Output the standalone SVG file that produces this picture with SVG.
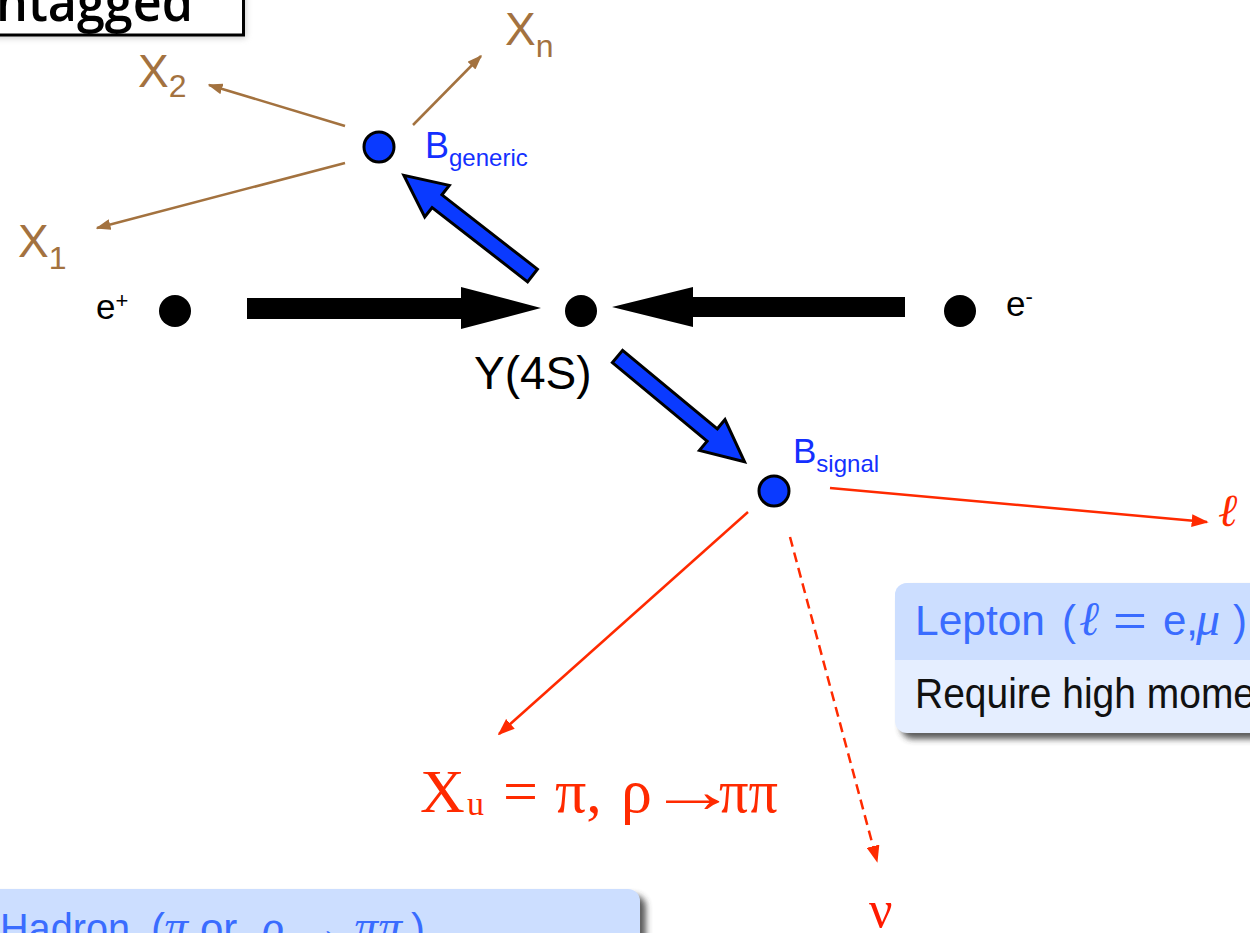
<svg xmlns="http://www.w3.org/2000/svg" width="1250" height="933" viewBox="0 0 1250 933">
<style>
.sans{font-family:"Liberation Sans",Arial,sans-serif}
.serif{font-family:"Liberation Serif","DejaVu Serif",serif}
.brown{fill:#A3723F}
.blueT{fill:#1430FF}
.red{fill:#FF2A00}
.dot{fill:#000}
.bdot{fill:#0A3AFF;stroke:#000;stroke-width:3}
.barrow{fill:#0A3AFF;stroke:#000;stroke-width:3;stroke-linejoin:miter}
.karrow{fill:#000}
.bline{stroke:#A3723F;stroke-width:2.5;fill:none}
.rline{stroke:#FF2A00;stroke-width:2.5;fill:none}
.hdr{font-family:"Liberation Sans",Arial,sans-serif;font-size:42px;fill:#3A6CFF}
.hm{font-family:"Liberation Serif","DejaVu Serif",serif;font-style:italic;font-size:48px;fill:#3A6CFF}
.body{font-family:"Liberation Sans",Arial,sans-serif;font-size:42px;fill:#111}
</style>
<defs>
<marker id="mb" viewBox="0 0 10 10" refX="9" refY="5" markerWidth="15" markerHeight="11" orient="auto" markerUnits="userSpaceOnUse" preserveAspectRatio="none"><path d="M0,0 L10,5 L0,10 z" fill="#A3723F"/></marker>
<marker id="mr" viewBox="0 0 10 10" refX="9" refY="5" markerWidth="17" markerHeight="13" orient="auto" markerUnits="userSpaceOnUse" preserveAspectRatio="none"><path d="M0,0 L10,5 L0,10 z" fill="#FF2A00"/></marker>
<filter id="sh" x="-20%" y="-20%" width="140%" height="140%"><feGaussianBlur stdDeviation="3"/></filter>
</defs>
<rect width="1250" height="933" fill="#fff"/>

<g id="title-box">
<rect x="-10" y="-10" width="256" height="48" fill="#999" filter="url(#sh)" opacity="0.5"/>
<rect x="-10" y="-10" width="253.5" height="45" fill="#fff" stroke="#000" stroke-width="3"/>
<text x="-4" y="21" font-family="'Open Sans',sans-serif" font-weight="600" font-size="54" textLength="197" lengthAdjust="spacingAndGlyphs" fill="#000">ntagged</text>
</g>

<g id="connectors">
<line class="bline" x1="345" y1="126" x2="209" y2="85" marker-end="url(#mb)"/>
<line class="bline" x1="413" y1="125" x2="481" y2="56" marker-end="url(#mb)"/>
<line class="bline" x1="345" y1="163" x2="97" y2="228" marker-end="url(#mb)"/>
<polygon class="barrow" transform="translate(532.5,275.5) rotate(217.9)" points="0,-8 121,-8 121,-20 163,0 121,20 121,8 0,8"/>
<polygon class="barrow" transform="translate(617.5,356.5) rotate(39.65)" points="0,-8 123,-8 123,-20 165,0 123,20 123,8 0,8"/>
<polygon class="karrow" points="247,298 461,298 461,287 541,308 461,329 461,319 247,319"/>
<polygon class="karrow" points="905,297 693,297 693,287 612,307 693,327 693,317 905,317"/>
<line class="rline" x1="830" y1="488" x2="1207" y2="522" marker-end="url(#mr)"/>
<line class="rline" x1="748" y1="512" x2="499" y2="734" marker-end="url(#mr)"/>
<line class="rline" x1="790" y1="537" x2="877" y2="861" stroke-dasharray="10 6" marker-end="url(#mr)"/>
</g>

<g id="X2"><text class="sans brown" x="138" y="87" font-size="46">X<tspan font-size="32" dy="10">2</tspan></text></g>
<g id="Xn"><text class="sans brown" x="505" y="45" font-size="46">X<tspan font-size="32" dy="12">n</tspan></text></g>
<g id="X1"><text class="sans brown" x="18" y="257" font-size="46">X<tspan font-size="32" dy="12">1</tspan></text></g>

<g id="Bgeneric">
<circle class="bdot" cx="379" cy="147" r="15"/>
<text class="sans blueT" x="425" y="158" font-size="36">B<tspan font-size="24" dy="8">generic</tspan></text>
</g>

<g id="eplus">
<circle class="dot" cx="175" cy="311" r="16"/>
<text class="sans" x="96" y="319" font-size="35" fill="#000">e<tspan font-size="22" dy="-11">+</tspan></text>
</g>

<g id="Y4S">
<circle class="dot" cx="581" cy="311" r="16"/>
<text class="sans" x="474" y="389" font-size="46" fill="#000">Y(4S)</text>
</g>

<g id="eminus">
<circle class="dot" cx="960" cy="311" r="16"/>
<text class="sans" x="1006" y="316" font-size="35" fill="#000">e<tspan font-size="22" dy="-12">-</tspan></text>
</g>

<g id="Bsignal">
<circle class="bdot" cx="774" cy="491" r="15"/>
<text class="sans blueT" x="793" y="463" font-size="35">B<tspan font-size="24" dy="9">signal</tspan></text>
</g>

<g id="lepton"><text class="serif red" x="1218" y="526" font-size="46" font-style="italic">ℓ</text></g>

<g id="Xu">
<text class="serif red" x="420" y="812" font-size="62">X</text>
<text class="serif red" x="467" y="815" font-size="34">u</text>
<text class="serif red" x="503" y="812" font-size="62">=</text>
<text class="serif red" x="555" y="812" font-size="62">π,</text>
<text class="serif red" x="621" y="812" font-size="62">ρ</text>
<text class="serif red" transform="translate(648,812) scale(1.45,1)" font-size="62">→</text>
<text class="serif red" x="719" y="812" font-size="62" textLength="59" lengthAdjust="spacingAndGlyphs">ππ</text>
</g>

<g id="nu"><text class="serif" x="869" y="927" font-size="52" fill="#FF1A00">ν</text></g>

<g id="lepton-box">
<rect x="901" y="589" width="400" height="150" rx="12" fill="#333" filter="url(#sh)" opacity="0.8"/>
<rect x="895" y="583" width="400" height="150" rx="12" fill="#E5EEFF"/>
<path d="M895,660 V595 a12,12 0 0 1 12,-12 H1295 V660 z" fill="#CCDEFF"/>
<text class="hdr" y="635"><tspan x="915" textLength="130" lengthAdjust="spacingAndGlyphs">Lepton</tspan><tspan x="1062">(</tspan></text>
<text class="hm" x="1079" y="635">ℓ</text>
<text class="hdr" x="1113" y="635" textLength="34" lengthAdjust="spacingAndGlyphs">=</text>
<text class="hdr" x="1163" y="635">e,</text>
<text class="hm" x="1196" y="635">μ</text>
<text class="hdr" x="1233" y="635">)</text>
<text class="body" x="915" y="708" textLength="340" lengthAdjust="spacingAndGlyphs">Require high mome</text>
</g>

<g id="hadron-box">
<rect x="-14" y="895" width="660" height="100" rx="12" fill="#333" filter="url(#sh)" opacity="0.8"/>
<rect x="-20" y="889" width="660" height="100" rx="12" fill="#CCDEFF"/>
<text class="hdr" y="943"><tspan x="0" textLength="130" lengthAdjust="spacingAndGlyphs">Hadron</tspan><tspan x="151">(</tspan><tspan x="200">or</tspan></text>
<text class="hm" x="164" y="943">π</text>
<text class="hm" x="261" y="943">ρ</text>
<text class="hdr" x="294" y="943" textLength="51" lengthAdjust="spacingAndGlyphs">→</text>
<text class="hm" x="354" y="943">ππ</text>
<text class="hdr" x="411" y="943">)</text>
</g>
</svg>
